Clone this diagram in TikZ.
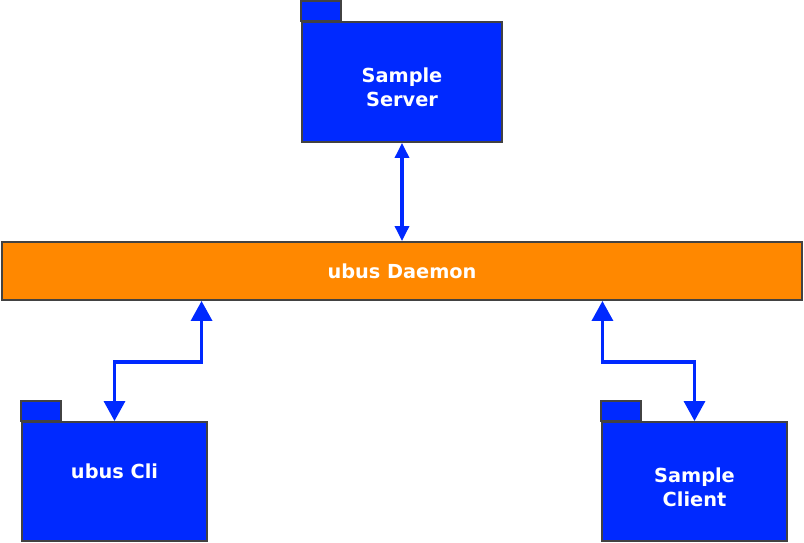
\documentclass[tikz,border=0pt]{standalone}
\usepackage{fontspec}
\setmainfont{DejaVu Sans}
\usetikzlibrary{arrows.meta, calc, positioning}

\definecolor{pkgblue}{RGB}{0,41,255}
\definecolor{busorange}{RGB}{255,136,0}
\definecolor{edgegrey}{RGB}{66,66,66}

\tikzset{
    pkgbody/.style={draw=edgegrey, line width=1.1pt, fill=pkgblue, inner sep=0pt},
    pkgtab/.style={draw=edgegrey, line width=1.1pt, fill=pkgblue},
    pkgtext/.style={text=white, font=\fontsize{11}{13.6}\selectfont\bfseries, align=center},
    busbar/.style={draw=edgegrey, line width=1.1pt, fill=busorange, inner sep=0pt},
    biglink/.style={pkgblue, line width=1.9pt, {Triangle[width=0.42cm, length=0.4cm]}-{Triangle[width=0.42cm, length=0.4cm]}},
    smalllink/.style={pkgblue, line width=1.9pt, {Triangle[width=0.28cm, length=0.3cm]}-{Triangle[width=0.28cm, length=0.3cm]}}
}

\begin{document}
\begin{tikzpicture}[x=0.02cm, y=-0.02cm]
\useasboundingbox (0,0) rectangle (804,543);

% packages
\node[pkgbody, minimum width=4cm, minimum height=2.4cm,
      label={[pkgtext, yshift=-0.1cm]center:Sample\\Server}] (server) at (402,82) {};
\draw[pkgtab] (server.north west) rectangle ++(40,-20);

\node[pkgbody, minimum width=3.7cm, minimum height=2.38cm,
      label={[pkgtext, yshift=0.21cm]center:ubus Cli}] (cli) at (114.5,481.5) {};
\draw[pkgtab] (cli.north west) rectangle ++(40,-20);

\node[pkgbody, minimum width=3.7cm, minimum height=2.38cm,
      label={[pkgtext, yshift=-0.11cm]center:Sample\\Client}] (client) at (694.5,481.5) {};
\draw[pkgtab] (client.north west) rectangle ++(40,-20);

% bus
\node[busbar, pkgtext, minimum width=16cm, minimum height=1.16cm] (daemon) at (402,271) {ubus Daemon};
\coordinate (daemonL) at ($(daemon.south west)!0.25!(daemon.south east)$);
\coordinate (daemonR) at ($(daemon.south west)!0.75!(daemon.south east)$);

% links
\draw[smalllink] (server.south) -- (daemon.north);
\draw[biglink] (daemonL) -- ++(0,61) -| (cli.north);
\draw[biglink] (daemonR) -- ++(0,61) -| (client.north);

\end{tikzpicture}
\end{document}
